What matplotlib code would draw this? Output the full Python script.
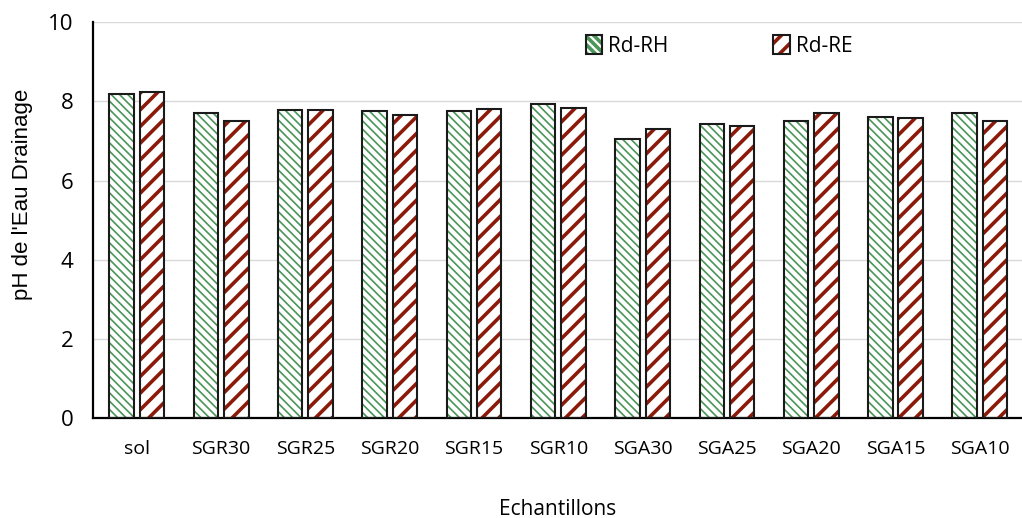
import numpy as np
import matplotlib
matplotlib.use('Agg')
import matplotlib.pyplot as plt
from matplotlib.patches import Patch

samples = ['sol', 'SGR30', 'SGR25', 'SGR20', 'SGR15', 'SGR10',
           'SGA30', 'SGA25', 'SGA20', 'SGA15', 'SGA10']
rd_rh = [8.18, 7.70, 7.78, 7.75, 7.75, 7.93, 7.05, 7.42, 7.50, 7.60, 7.70]
rd_re = [8.24, 7.50, 7.78, 7.65, 7.80, 7.83, 7.30, 7.37, 7.70, 7.57, 7.50]
yticks = [0, 2, 4, 6, 8, 10]

font_c = ['Open Sans', 'DejaVu Sans']
green = '#4a9558'
red = '#8b1a0a'

fig = plt.figure(figsize=(10.22, 5.18), dpi=100)
ax = fig.add_axes([0.091, 0.193, 0.909, 0.764])

x = np.arange(len(samples))
w = 0.29
off = 0.18

# hatched fill, then a black outline on top
plt.rcParams['hatch.linewidth'] = 1.2
ax.bar(x - off, rd_rh, w, color='white', edgecolor=green, hatch='\\\\\\\\', linewidth=0, zorder=2)
h_rh = Patch(facecolor='white', edgecolor=green, hatch='\\\\\\\\', linewidth=0)
plt.rcParams['hatch.linewidth'] = 2.6
ax.bar(x + off, rd_re, w, color='white', edgecolor=red, hatch='//', linewidth=0, zorder=2)
h_re = Patch(facecolor='white', edgecolor=red, hatch='//', linewidth=0)
ax.bar(x - off, rd_rh, w, fill=False, edgecolor='#1a1a1a', linewidth=1.5, zorder=3)
ax.bar(x + off, rd_re, w, fill=False, edgecolor='#1a1a1a', linewidth=1.5, zorder=3)

ax.set_xlim(-0.52, 10.5)
ax.set_ylim(0, 10)
ax.set_yticks(yticks)
ax.set_xticks(x)
ax.set_xticklabels(samples, family=font_c, fontsize=14)
for lab in ax.get_yticklabels():
    lab.set_family(font_c)
    lab.set_fontsize(16)
ax.tick_params(axis='both', length=0)
ax.tick_params(axis='x', pad=16)
ax.tick_params(axis='y', pad=14)
ax.grid(axis='y', color='#d9d9d9', linewidth=1, zorder=0)
ax.set_axisbelow(True)
for s in ['top', 'right']:
    ax.spines[s].set_visible(False)
ax.spines['left'].set_linewidth(1.6)
ax.spines['bottom'].set_linewidth(1.6)

ax.set_ylabel("pH de l'Eau Drainage", family='Liberation Sans', fontsize=16)
ax.yaxis.set_label_coords(-0.065, 0.566)
ax.set_xlabel('Echantillons', family=font_c, fontsize=15, labelpad=29)

outline = Patch(facecolor='none', edgecolor='#1a1a1a', linewidth=1.5)
leg = ax.legend([(h_rh, outline), (h_re, outline)], ['Rd-RH', 'Rd-RE'], ncol=2, frameon=False,
                loc='upper left', bbox_to_anchor=(0.51, 1.015),
                prop={'family': font_c, 'size': 15}, handlelength=0.8,
                handleheight=1.0, columnspacing=5.0, handletextpad=0.3)

fig.savefig('out.png', dpi=100)
